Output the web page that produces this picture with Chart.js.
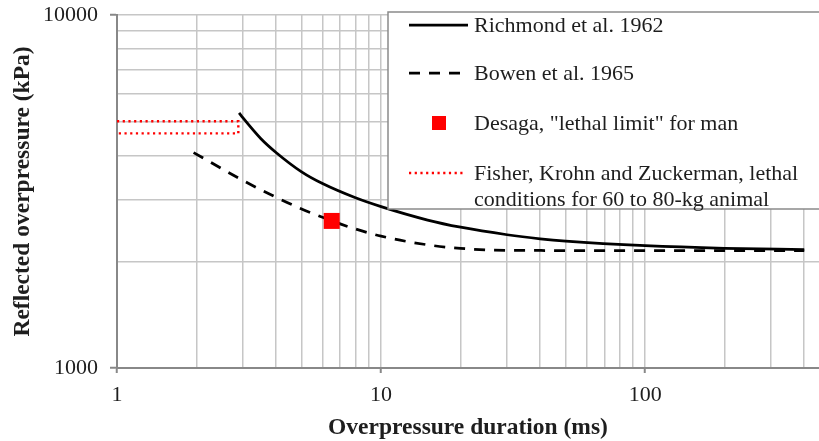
<!DOCTYPE html>
<html>
<head>
<meta charset="utf-8">
<script src="https://cdn.jsdelivr.net/npm/chart.js@4/dist/chart.umd.min.js"></script>
<style>
  body { margin: 0; background: #fff; overflow: hidden; }
  #wrap { width: 819px; height: 441px; position: relative; }
  #blastChart { display: block; }
</style>
</head>
<body>
<div id="wrap"><canvas id="blastChart"></canvas></div>
<script>
// durations in ms, pressures in kPa
const richmondDuration = [2.9, 3, 3.5, 4, 5, 6, 8, 10, 15, 20, 30, 40, 50, 100, 200, 400];
const richmondPressure = [5280, 5110, 4470, 4080, 3595, 3330, 3035, 2865, 2625, 2505, 2385, 2323, 2288, 2220, 2183, 2166];

const bowenDuration = [1.95, 3, 4, 5, 6, 7, 8, 10, 15, 20, 30, 100, 400];
const bowenPressure = [4075, 3398, 3046, 2823, 2673, 2560, 2476, 2363, 2233, 2182, 2155, 2150, 2150];

const desagaDuration = [6.5];
const desagaPressure = [2610];

const fisherDuration = [1, 2.88, 2.88, 1];
const fisherPressure = [5000, 5000, 4620, 4620];

const xTickValues = [1, 2, 3, 4, 5, 6, 7, 8, 9, 10, 20, 30, 40, 50, 60, 70, 80, 90, 100, 200, 300, 400];
const yTickValues = [1000, 2000, 3000, 4000, 5000, 6000, 7000, 8000, 9000, 10000];
const xLabelValues = [1, 10, 100];
const yLabelValues = [1000, 10000];

const serif = "'Liberation Serif', 'Times New Roman', serif";
const gridGray = "#c6c6c6";
const axisGray = "#888888";
const textColor = "#1e1e1e";

function toPoints(xs, ys) {
  return xs.map((x, i) => ({ x: x, y: ys[i] }));
}

// legend drawn inside the plot, top right, like the original figure
const boxLegend = {
  id: "boxLegend",
  afterDatasetsDraw(chart) {
    const ctx = chart.ctx;
    const ds = chart.data.datasets;
    ctx.save();
    ctx.fillStyle = "#ffffff";
    ctx.fillRect(388, 12, 440, 197);
    ctx.strokeStyle = "#8a8a8a";
    ctx.lineWidth = 1.5;
    ctx.strokeRect(388, 12, 440, 197);

    ctx.font = "22px " + serif;
    ctx.fillStyle = textColor;
    ctx.textBaseline = "middle";
    ctx.textAlign = "left";

    const rows = [25, 73, 123, 173];
    const order = ["richmond", "bowen", "desaga", "fisher"];
    order.forEach((key, r) => {
      const d = ds.find((s) => s.legendKey === key);
      const y = rows[r];
      if (d.isMarker) {
        ctx.fillStyle = d.backgroundColor;
        ctx.fillRect(432, y - 7, 14, 14);
      } else {
        ctx.beginPath();
        ctx.setLineDash(d.borderDash || []);
        ctx.strokeStyle = d.borderColor;
        ctx.lineWidth = d.borderWidth;
        ctx.moveTo(409, y);
        ctx.lineTo(key === "fisher" ? 463 : 468, y);
        ctx.stroke();
        ctx.setLineDash([]);
      }
      ctx.fillStyle = textColor;
      const lines = Array.isArray(d.label) ? d.label : [d.label];
      lines.forEach((t, k) => ctx.fillText(t, 474, y + 1 + k * 26));
    });
    ctx.restore();
  },
};

// no extra room for labels at the ends of the axes
function noEndPadding(scale) {
  scale.paddingTop = 0;
  scale.paddingBottom = 0;
  scale.paddingLeft = 0;
  scale.paddingRight = 0;
}

const ctx = document.getElementById("blastChart").getContext("2d");

new Chart(ctx, {
  type: "line",
  data: {
    datasets: [
      {
        legendKey: "desaga",
        isMarker: true,
        type: "scatter",
        label: "Desaga, \"lethal limit\" for man",
        data: toPoints(desagaDuration, desagaPressure),
        pointStyle: "rect",
        pointRadius: 11.3,
        backgroundColor: "#ff0000",
        borderWidth: 0,
        order: -1,
      },
      {
        legendKey: "richmond",
        label: "Richmond et al. 1962",
        data: toPoints(richmondDuration, richmondPressure),
        borderColor: "#000000",
        borderWidth: 2.75,
        pointRadius: 0,
        cubicInterpolationMode: "monotone",
      },
      {
        legendKey: "bowen",
        label: "Bowen et al. 1965",
        data: toPoints(bowenDuration, bowenPressure),
        borderColor: "#000000",
        borderWidth: 2.75,
        borderDash: [11, 9],
        pointRadius: 0,
        cubicInterpolationMode: "monotone",
      },
      {
        legendKey: "fisher",
        label: ["Fisher, Krohn and Zuckerman, lethal", "conditions for 60 to 80-kg animal"],
        data: toPoints(fisherDuration, fisherPressure),
        borderColor: "#ff0000",
        borderWidth: 2.4,
        borderDash: [2.2, 3.5],
        pointRadius: 0,
        tension: 0,
      },
    ],
  },
  options: {
    responsive: true,
    maintainAspectRatio: false,
    animation: false,
    layout: { autoPadding: false, padding: { top: 15, right: 0, bottom: 0, left: 0 } },
    plugins: {
      legend: { display: false },
      tooltip: { enabled: false },
    },
    scales: {
      x: {
        type: "logarithmic",
        min: 1,
        max: 455,
        afterBuildTicks: (scale) => {
          scale.ticks = xTickValues.map((v) => ({ value: v }));
        },
        afterFit: (scale) => {
          scale.height = 73;
          noEndPadding(scale);
        },
        ticks: {
          autoSkip: false,
          maxRotation: 0,
          padding: 9,
          color: textColor,
          font: { family: serif, size: 22 },
          callback: (v) => (xLabelValues.includes(v) ? String(v) : ""),
        },
        grid: {
          color: gridGray,
          lineWidth: 1.5,
          tickLength: 5,
          tickWidth: 2,
          tickColor: (c) => (c.tick && xLabelValues.includes(c.tick.value) ? axisGray : "rgba(0,0,0,0)"),
        },
        border: { color: axisGray, width: 2 },
        title: {
          display: true,
          text: "Overpressure duration (ms)",
          color: textColor,
          font: { family: serif, size: 23.5, weight: "bold", lineHeight: 1.1 },
          padding: { top: 0, bottom: 0 },
        },
      },
      y: {
        type: "logarithmic",
        min: 1000,
        max: 10000,
        afterBuildTicks: (scale) => {
          scale.ticks = yTickValues.map((v) => ({ value: v }));
        },
        afterFit: (scale) => {
          scale.width = 117;
          noEndPadding(scale);
        },
        ticks: {
          autoSkip: false,
          padding: 12,
          color: textColor,
          font: { family: serif, size: 22 },
          callback: (v) => (yLabelValues.includes(v) ? String(v) : ""),
        },
        grid: {
          color: gridGray,
          lineWidth: 1.5,
          tickLength: 7,
          tickWidth: 2,
          tickColor: (c) => (c.tick && yLabelValues.includes(c.tick.value) ? axisGray : "rgba(0,0,0,0)"),
        },
        border: { color: axisGray, width: 2 },
        title: {
          display: true,
          text: "Reflected overpressure (kPa)",
          color: textColor,
          font: { family: serif, size: 23.5, weight: "bold", lineHeight: 1.2 },
          padding: { top: 9, bottom: 0 },
        },
      },
    },
  },
  plugins: [boxLegend],
});
</script>
</body>
</html>
